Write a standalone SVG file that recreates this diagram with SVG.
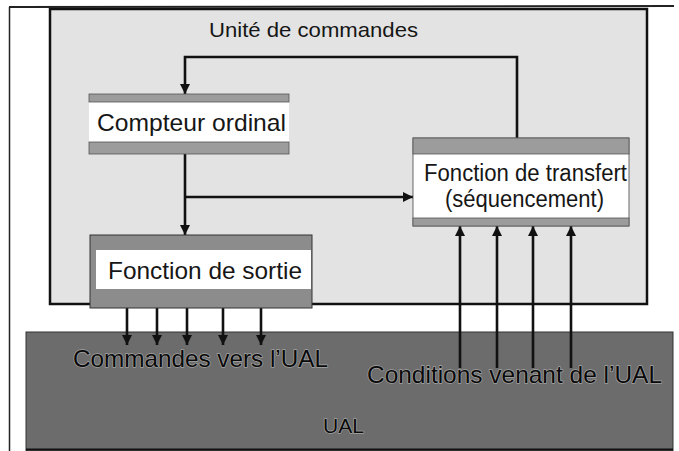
<svg xmlns="http://www.w3.org/2000/svg" width="679" height="451" viewBox="0 0 679 451">
<style>
text{font-family:"Liberation Sans",Arial,sans-serif;fill:#161616}
.lbl{font-size:24px}
.ual{font-size:24px;fill:#0a0a0a;stroke:#a4a4a4;stroke-width:1.4px;paint-order:stroke;stroke-linejoin:round}
.bar{fill:#9c9c9c}
.wire{stroke:#111;stroke-width:2.6;fill:none}
</style>
<defs>
<marker id="ah" viewBox="0 0 10 10" refX="10" refY="5" markerWidth="4" markerHeight="4" orient="auto" markerUnits="strokeWidth">
<path d="M0,0 L10,5 L0,10 z" fill="#111"/>
</marker>
</defs>
<rect x="0" y="0" width="679" height="451" fill="#ffffff"/>
<g id="page">
<line x1="9" y1="7" x2="674" y2="6" stroke="#222" stroke-width="2"/>
<line x1="9.5" y1="7" x2="9.5" y2="451" stroke="#222" stroke-width="1.5"/>
</g>
<g id="unite">
<rect x="50" y="9" width="597" height="295" fill="#e3e3e3" stroke="#111" stroke-width="2.5"/>
<text x="209" y="37" font-size="21" textLength="209" lengthAdjust="spacingAndGlyphs">Unité de commandes</text>
</g>
<g id="ual">
<rect x="26" y="332" width="647" height="119" fill="#6c6c6c" stroke="#333" stroke-width="1"/>
<line x1="26" y1="449.5" x2="673" y2="449.5" stroke="#111" stroke-width="2"/>
<text class="ual" x="323" y="433" style="font-size:21px" textLength="41" lengthAdjust="spacingAndGlyphs">UAL</text>
</g>
<g id="connectors">
<polyline class="wire" points="517,138 517,57 185,57 185,94" marker-end="url(#ah)"/>
<line class="wire" x1="185" y1="154" x2="185" y2="235" marker-end="url(#ah)"/>
<line class="wire" x1="185" y1="197" x2="413" y2="197" marker-end="url(#ah)"/>
<line class="wire" x1="127" y1="308" x2="127" y2="345" marker-end="url(#ah)"/>
<line class="wire" x1="157" y1="308" x2="157" y2="345" marker-end="url(#ah)"/>
<line class="wire" x1="187" y1="308" x2="187" y2="345" marker-end="url(#ah)"/>
<line class="wire" x1="223" y1="308" x2="223" y2="345" marker-end="url(#ah)"/>
<line class="wire" x1="261" y1="308" x2="261" y2="345" marker-end="url(#ah)"/>
<line class="wire" x1="460" y1="368" x2="460" y2="226" marker-end="url(#ah)"/>
<line class="wire" x1="497" y1="368" x2="497" y2="226" marker-end="url(#ah)"/>
<line class="wire" x1="533" y1="368" x2="533" y2="226" marker-end="url(#ah)"/>
<line class="wire" x1="571" y1="368" x2="571" y2="226" marker-end="url(#ah)"/>
</g>
<g id="compteur">
<rect x="89" y="94" width="200" height="60" fill="#ffffff"/>
<rect class="bar" x="89" y="94" width="200" height="8" stroke="#555" stroke-width="0.8"/>
<rect class="bar" x="89" y="142" width="200" height="12" stroke="#555" stroke-width="0.8"/>
<text class="lbl" x="97" y="131" textLength="189" lengthAdjust="spacingAndGlyphs">Compteur ordinal</text>
</g>
<g id="transfert">
<rect x="413" y="138" width="216" height="88" fill="#ffffff" stroke="#444" stroke-width="0.8"/>
<rect class="bar" x="413" y="138" width="216" height="16" stroke="#555" stroke-width="0.8"/>
<rect class="bar" x="413" y="218" width="216" height="8" stroke="#555" stroke-width="0.8"/>
<text class="lbl" x="424" y="181" style="font-size:23px" textLength="203" lengthAdjust="spacingAndGlyphs">Fonction de transfert</text>
<text class="lbl" x="445" y="207" style="font-size:23px" textLength="159" lengthAdjust="spacingAndGlyphs">(séquencement)</text>
</g>
<g id="sortie">
<rect x="90" y="235" width="222" height="73" fill="#8c8c8c" stroke="#333" stroke-width="1"/>
<rect x="96" y="250" width="215" height="39" fill="#ffffff"/>
<text class="lbl" x="108" y="279" textLength="194" lengthAdjust="spacingAndGlyphs">Fonction de sortie</text>
</g>
<g id="labels-ual">
<text class="ual" x="73" y="367" textLength="255" lengthAdjust="spacingAndGlyphs">Commandes vers l’UAL</text>
<text class="ual" x="367" y="383" textLength="295" lengthAdjust="spacingAndGlyphs">Conditions venant de l’UAL</text>
</g>
</svg>
